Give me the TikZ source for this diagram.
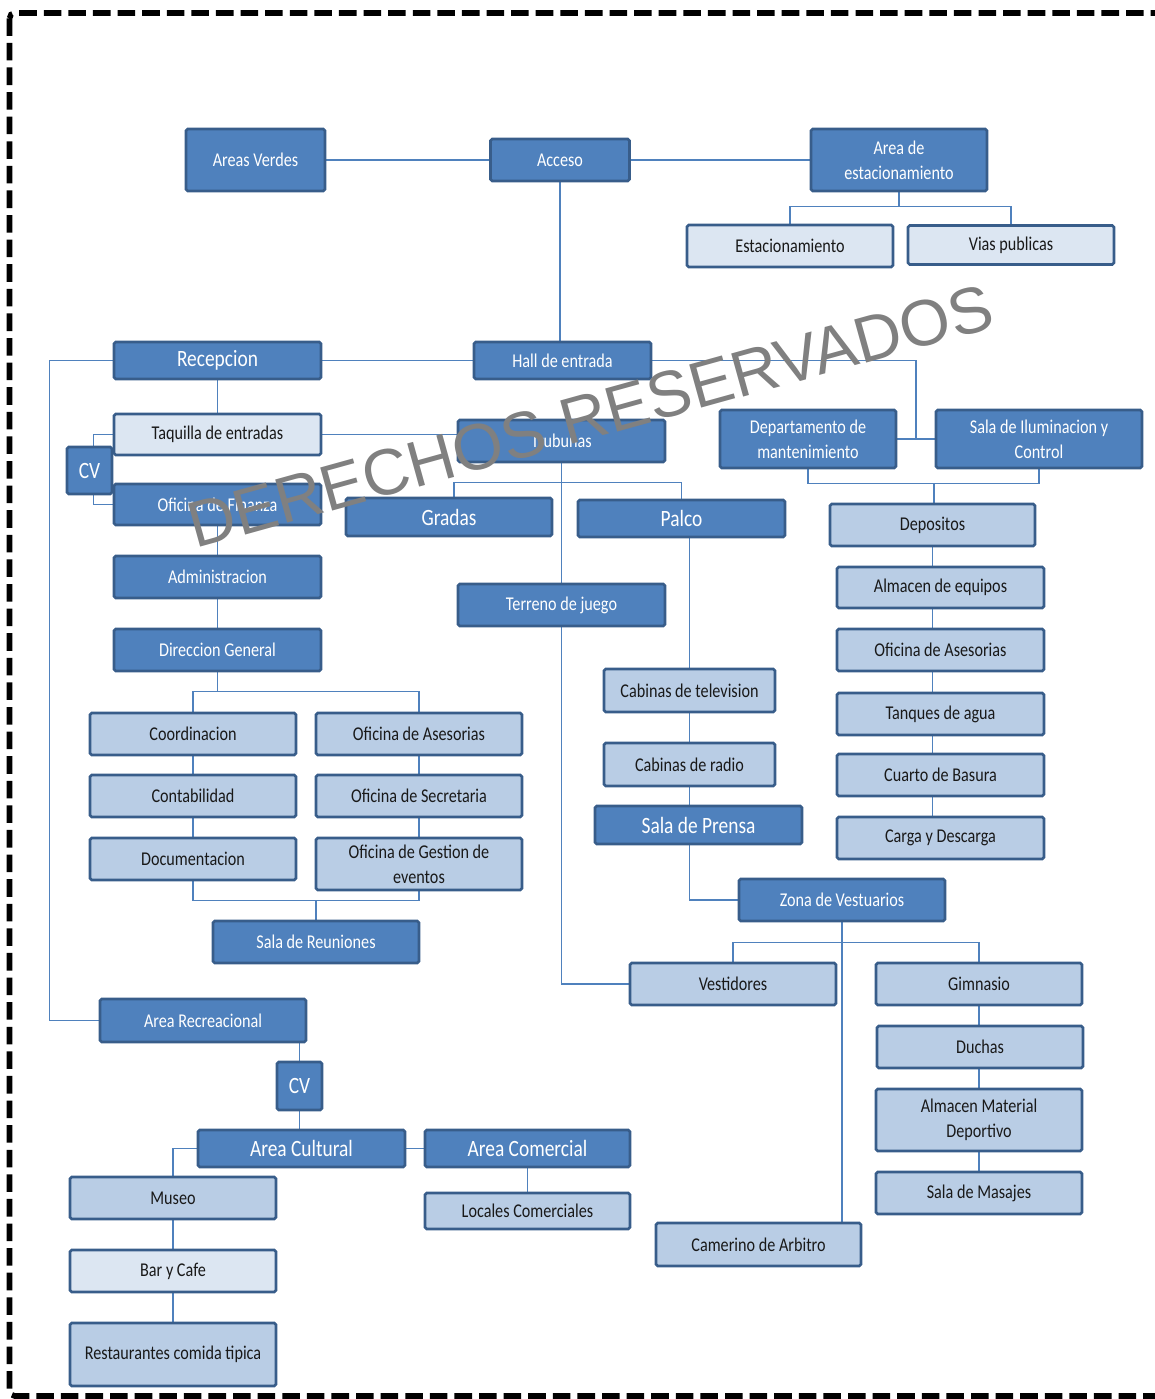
\documentclass[tikz,border=0pt]{standalone}
\usepackage{fontspec}
\setmainfont{Carlito}[FakeStretch=0.83]
\newfontfamily\wmfont{Liberation Sans}
\usetikzlibrary{backgrounds}
\definecolor{boxdark}{RGB}{79,129,189}
\definecolor{boxline}{RGB}{56,93,138}
\definecolor{boxlight}{RGB}{185,205,229}
\definecolor{boxpale}{RGB}{220,230,242}
\definecolor{linkc}{RGB}{79,129,189}
\definecolor{wmgray}{RGB}{128,128,128}

\begin{document}
\begin{tikzpicture}[x=0.02cm,y=-0.02cm,
  wh/.style 2 args={minimum width=#1*0.02cm,minimum height=#2*0.02cm},
  box/.style={rectangle,rounded corners=1pt,draw=boxline,line width=1.5pt,align=center,inner sep=0pt,font=\fontsize{11.1}{14.2}\selectfont},
  dark/.style={box,fill=boxdark,text=white},
  darkbig/.style={dark,font=\fontsize{13.3}{16}\selectfont},
  light/.style={box,fill=boxlight,text=black!90},
  pale/.style={box,fill=boxpale,text=black!90},
  link/.style={draw=linkc,line width=0.7pt},
  wm/.style={inner sep=0pt,text=wmgray,font=\wmfont\fontsize{37}{37}\selectfont}]
        \useasboundingbox (0,0) rectangle (1155,1399);
        \draw [line width=3.2pt,dash pattern=on 10pt off 4pt,rounded corners=3pt] (9.5,13) rectangle (1180,1396);

        \node [dark,wh={139}{62}] (verdes) at (255.5,160) {Areas Verdes};
        \node [dark,wh={139}{42}] (acceso) at (560,160) {Acceso};
        \node [dark,wh={176}{62}] (estac) at (899,160) {Area de\\estacionamiento};
        \node [pale,wh={206}{42}] (estacion) at (790,246) {Estacionamiento};
        \node [pale,wh={206}{39}] (vias) at (1011,245) {Vias publicas};

        \node [darkbig,wh={207}{37}] (recep) at (217.5,360.5) {Recepcion};
        \node [dark,wh={177}{37}] (hall) at (562.5,360.5) {Hall de entrada};
        \node [pale,wh={207}{41}] (taquilla) at (217.5,434.5) {Taquilla de entradas};
        \node [dark,wh={207}{41}] (finanza) at (217.5,504.5) {Oficina de Finanza};
        \node [darkbig,wh={45}{47}] (cva) at (89.5,470.5) {CV};
        \node [dark,wh={207}{42}] (admin) at (217.5,577) {Administracion};
        \node [dark,wh={207}{42}] (direc) at (217.5,650) {Direccion General};
        \node [light,wh={206}{42}] (coord) at (193,734) {Coordinacion};
        \node [light,wh={206}{42}] (asesl) at (419,734) {Oficina de Asesorias};
        \node [light,wh={206}{42}] (conta) at (193,796) {Contabilidad};
        \node [light,wh={206}{42}] (secre) at (419,796) {Oficina de Secretaria};
        \node [light,wh={206}{42}] (docu) at (193,859) {Documentacion};
        \node [light,wh={206}{52}] (gestion) at (419,864) {Oficina de Gestion de\\eventos};
        \node [dark,wh={206}{42}] (reun) at (316,942) {Sala de Reuniones};

        \node [dark,wh={207}{42}] (tribunas) at (561.5,441) {Trubunas};
        \node [darkbig,wh={206}{38}] (gradas) at (449,517) {Gradas};
        \node [darkbig,wh={207}{37}] (palco) at (681.5,518.5) {Palco};
        \node [dark,wh={207}{42}] (terreno) at (561.5,605) {Terreno de juego};
        \node [light,wh={171}{43}] (cabtv) at (689.5,690.5) {Cabinas de television};
        \node [light,wh={171}{43}] (cabradio) at (689.5,764.5) {Cabinas de radio};
        \node [darkbig,wh={207}{38}] (prensa) at (698.5,825) {Sala de Prensa};
        \node [dark,wh={206}{42}] (vestuar) at (842,900) {Zona de Vestuarios};
        \node [light,wh={206}{42}] (vestid) at (733,984) {Vestidores};
        \node [light,wh={206}{42}] (gimn) at (979,984) {Gimnasio};
        \node [light,wh={206}{42}] (duchas) at (980,1047) {Duchas};
        \node [light,wh={206}{62}] (almmat) at (979,1120) {Almacen Material\\Deportivo};
        \node [light,wh={206}{42}] (masajes) at (979,1193) {Sala de Masajes};
        \node [light,wh={205}{43}] (camerino) at (758.5,1244.5) {Camerino de Arbitro};

        \node [dark,wh={176}{58}] (manten) at (808,439) {Departamento  de\\mantenimiento};
        \node [dark,wh={206}{58}] (ilum) at (1039,439) {Sala de Iluminacion y\\Control};
        \node [light,wh={205}{42}] (depos) at (932.5,525) {Depositos};
        \node [light,wh={207}{41}] (almeq) at (940.5,587.5) {Almacen de equipos};
        \node [light,wh={207}{42}] (asesr) at (940.5,650) {Oficina de Asesorias};
        \node [light,wh={207}{42}] (tanques) at (940.5,714) {Tanques de agua};
        \node [light,wh={207}{42}] (basura) at (940.5,775) {Cuarto de Basura};
        \node [light,wh={207}{42}] (carga) at (940.5,838) {Carga y Descarga};

        \node [dark,wh={206}{43}] (recre) at (203,1020.5) {Area Recreacional};
        \node [darkbig,wh={45}{48}] (cvb) at (299.5,1086) {CV};
        \node [darkbig,wh={207}{37}] (cultural) at (301.5,1148.5) {Area Cultural};
        \node [darkbig,wh={205}{37}] (comercial) at (527.5,1148.5) {Area Comercial};
        \node [light,wh={206}{42}] (museo) at (173,1198) {Museo};
        \node [pale,wh={206}{42}] (bar) at (173,1271) {Bar y Cafe};
        \node [light,wh={206}{63}] (restau) at (173,1354.5) {Restaurantes comida tipica};
        \node [light,wh={205}{36}] (locales) at (527.5,1211) {Locales  Comerciales};

        \coordinate (mj) at (916,439);

        \begin{scope}[on background layer]
        \draw [link] (verdes) -- (acceso);
        \draw [link] (acceso) -- (estac);
        \draw [link] (estac.south) -- ++(0,15);
        \draw [link] (estacion.north) -- ++(0,-17) -| (vias.north);
        \draw [link] (acceso.south) -- (acceso.south |- hall.north);
        \draw [link] (recep) -- (hall);
        \draw [link] (manten.east) -- (ilum.west);
        \draw [link] (hall.east) -| (mj);
        \draw [link] (manten.south) -- ++(0,14) -| (ilum.south);
        \draw [link] (depos.north) ++(1.5,0) -- ++(0,-20);
        \foreach \a/\b in {depos/almeq,almeq/asesr,asesr/tanques,tanques/basura,basura/carga}
            \draw [link] (depos.south |- \a.south) -- (depos.south |- \b.north);

        \draw [link] (recep.south) -- (taquilla.north);
        \draw [link] (taquilla.east) -- (taquilla.east -| tribunas.west);
        \draw [link] (taquilla.west) -- ++(-19,0) |- (finanza.west);
        \draw [link] (finanza.south) -- (admin.north);
        \draw [link] (admin.south) -- (direc.north);
        \draw [link] (direc.south) -- ++(0,20);
        \draw [link] (coord.north) -- ++(0,-20) -| (asesl.north);
        \draw [link] (coord.south) -- (conta.north);
        \draw [link] (conta.south) -- (docu.north);
        \draw [link] (asesl.south) -- (secre.north);
        \draw [link] (secre.south) -- (gestion.north);
        \draw [link] (docu.south) -- ++(0,19) -| (gestion.south);
        \draw [link] (reun.north) -- ++(0,-20);
        \draw [link] (recep.west) -- ++(-63,0) |- (recre.west);

        \draw [link] (cvb.north) -- (cvb.north |- recre.south);
        \draw [link] (cvb.south) -- (cvb.south |- cultural.north);
        \draw [link] (cultural) -- (comercial);
        \draw [link] (cultural.west) -| (museo.north);
        \draw [link] (museo.south) -- (bar.north);
        \draw [link] (bar.south) -- (restau.north);
        \draw [link] (comercial.south) -- (locales.north);

        \draw [link] (tribunas.south) -- (tribunas.south |- terreno.north);
        \draw [link] (gradas.north) ++(5,0) -- ++(0,-14) -| (palco.north);
        \draw [link] (terreno.south) |- (vestid.west);
        \draw [link] (cabtv.north) -- (cabtv.north |- palco.south);
        \draw [link] (cabtv.south) -- (cabradio.north);
        \draw [link] (cabradio.south) -- (cabradio.south |- prensa.north);
        \draw [link] (cabradio.south |- prensa.south) |- (vestuar.west);
        \draw [link] (vestuar.south) -- (vestuar.south |- camerino.north);
        \draw [link] (vestid.north) -- ++(0,-19) -| (gimn.north);
        \draw [link] (gimn.south) -- (gimn.south |- duchas.north);
        \draw [link] (gimn.south |- duchas.south) -- (gimn.south |- almmat.north);
        \draw [link] (gimn.south |- almmat.south) -- (gimn.south |- masajes.north);
        \end{scope}

        \node [wm,anchor=base west,rotate=15.5] (marca) at (195,549) {DERECHOS RESERVADOS};
\end{tikzpicture}
\end{document}
